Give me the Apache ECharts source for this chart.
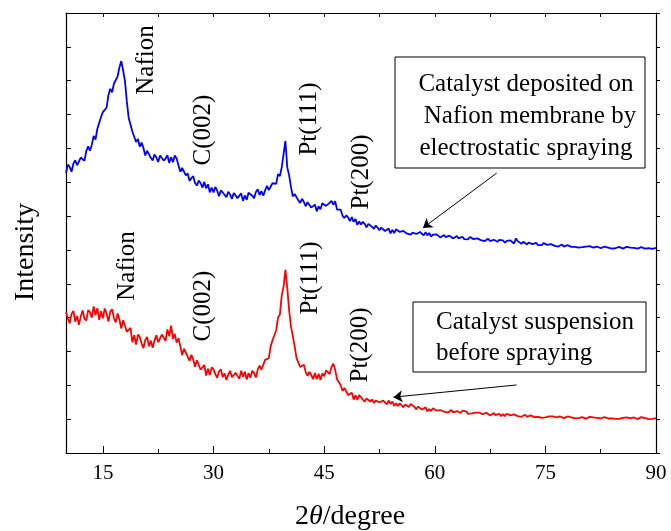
<!DOCTYPE html>
<html>
<head>
<meta charset="utf-8">
<title>XRD</title>
<script src="https://cdn.jsdelivr.net/npm/echarts@6/dist/echarts.min.js"></script>
<style>
html, body { margin: 0; padding: 0; background: #fff; }
#main { width: 671px; height: 531px; }
</style>
</head>
<body>
<div id="main"></div>
<script>
// 2theta grid of the scans (degree)
var thetaStart = 10;
var thetaStep = 0.25;

// catalyst deposited on Nafion membrane by electrostatic spraying (blue)
var sprayed = [
	828,852,845,831,855,865,850,847,873,870,863,892,906,893,911,937,926,958,953,993,
	1007,1012,1020,1057,1076,1066,1091,1086,1113,1140,1158,1130,1098,1038,990,989,950,953,919,928,
	905,917,901,879,893,893,872,864,882,873,860,879,884,864,870,880,857,874,859,879,
	870,850,831,842,843,820,826,804,812,818,798,790,805,797,784,801,782,794,770,784,
	770,786,775,759,776,781,763,756,772,764,751,768,772,753,757,767,745,761,748,769,
	769,760,753,771,779,762,774,760,776,789,777,776,797,798,795,824,818,844,847,922,
	844,821,787,758,765,764,747,739,751,742,729,741,742,725,727,734,714,729,720,738,
	738,730,725,739,745,733,744,719,719,719,701,694,702,696,685,697,683,691,674,684,
	675,683,677,667,677,678,668,662,672,666,658,666,668,656,657,663,649,659,650,661,
	659,653,648,656,658,648,653,645,651,655,647,644,653,649,643,652,643,650,639,645,
	641,646,642,637,642,644,638,636,642,638,634,639,641,634,636,639,632,637,631,638,
	636,632,628,634,636,629,631,626,629,633,626,625,630,628,624,630,625,628,621,627,
	623,628,625,619,634,626,621,618,624,621,616,622,624,617,619,621,614,619,614,620,
	618,615,612,617,618,612,615,610,613,616,610,610,614,612,609,614,609,612,607,612,
	608,612,610,606,611,612,607,606,610,608,605,609,610,605,607,609,604,608,605,610,
	609,606,604,608,609,604,607,603,606,609,604,604,608,607,604,609,605,608,603,608,
	606
];

// catalyst suspension before spraying (red)
var suspension = [
	416,398,383,411,420,388,405,379,403,421,397,391,422,416,400,433,407,428,393,419,
	398,427,413,388,417,425,398,386,412,394,368,392,394,358,359,370,327,348,320,350,
	343,324,310,334,343,315,332,311,332,348,327,322,350,345,331,365,345,376,337,352,
	326,339,315,289,308,311,285,272,290,276,255,274,275,246,248,260,229,249,230,253,
	247,233,222,241,247,224,235,216,231,243,224,219,237,232,219,243,225,240,217,236,
	222,243,236,223,247,258,246,246,275,279,280,315,333,333,362,400,409,465,491,541,
	488,423,374,346,316,281,280,254,259,261,239,228,240,231,218,236,218,234,216,235,
	227,244,240,233,254,264,245,218,214,200,183,192,190,171,172,178,158,170,157,171,
	166,158,152,161,163,152,158,148,155,159,149,145,155,151,144,155,145,152,139,147,
	139,147,143,135,143,145,136,145,140,136,129,137,138,128,130,135,123,130,124,132,
	130,125,122,127,129,122,125,119,123,127,120,119,124,122,118,125,120,123,116,121,
	117,122,119,114,119,121,115,113,119,115,111,116,118,112,113,116,109,115,109,116,
	114,111,109,114,114,109,112,107,110,113,107,107,111,110,106,111,107,110,104,109,
	105,110,108,103,108,109,105,104,108,106,103,108,108,103,105,107,102,106,103,108,
	106,103,101,106,107,102,105,101,104,107,102,102,106,105,102,106,102,105,101,105,
	101,106,104,100,105,106,102,101,105,103,100,105,106,101,103,105,100,104,101,106,
	103
];

var xMajorTicks = [15, 30, 45, 60, 75, 90];
var xMinorTicks = [22.5, 37.5, 52.5, 67.5, 82.5];
var xAllTicks = [15, 22.5, 30, 37.5, 45, 52.5, 60, 67.5, 75, 82.5, 90];

// arrows: [from, to] in (2theta, intensity)
var sprayedArrow = [[68.4, 827], [58.4, 665]];
var suspensionArrow = [[71.1, 201], [54.4, 165]];

var serif = "'Liberation Serif', 'Times New Roman', serif";

function toPairs(values) {
	var out = [];
	for (var i = 0; i < values.length; i++) {
		out.push([thetaStart + i * thetaStep, values[i]]);
	}
	return out;
}

function arrowLine(pts) {
	return {
		silent: true,
		symbol: ['none', 'arrow'],
		symbolSize: 9,
		label: { show: false },
		lineStyle: { color: '#000', width: 1, type: 'solid' },
		emphasis: { disabled: true },
		data: [[{ coord: pts[0] }, { coord: pts[1] }]]
	};
}

// rotated peak labels
function peakLabel(text, x, y) {
	return {
		type: 'text',
		x: x,
		y: y,
		rotation: Math.PI / 2,
		style: {
			text: text,
			fontFamily: serif,
			fontSize: 25,
			fill: '#000',
			align: 'center',
			verticalAlign: 'middle'
		}
	};
}

function boxText(text, x, y, align) {
	return {
		type: 'text',
		x: x,
		y: y,
		style: {
			text: text,
			fontFamily: serif,
			fontSize: 25,
			fill: '#000',
			align: align,
			verticalAlign: 'middle'
		}
	};
}

var myChart = echarts.init(document.getElementById('main'));

var option = {
	animation: false,
	backgroundColor: '#fff',
	grid: { left: 66, right: 15, top: 13, bottom: 78, outerBoundsMode: 'none' },
	xAxis: [{
		type: 'value',
		min: 10,
		max: 90,
		position: 'bottom',
		axisLine: { onZero: false, lineStyle: { color: '#000', width: 1.2 } },
		axisTick: { inside: true, length: 7, customValues: xMajorTicks, lineStyle: { color: '#000' } },
		axisLabel: { customValues: xMajorTicks, fontFamily: serif, fontSize: 21, color: '#000', margin: 10 },
		splitLine: { show: false },
		name: '2{i|θ}/degree',
		nameLocation: 'middle',
		nameGap: 50,
		nameTextStyle: {
			fontFamily: serif, fontSize: 28, color: '#000',
			padding: [0, 22, 0, 0],
			rich: { i: { fontFamily: serif, fontSize: 28, fontStyle: 'italic', color: '#000' } }
		}
	}, {
		type: 'value',
		min: 10,
		max: 90,
		position: 'bottom',
		axisLine: { show: false },
		axisTick: { inside: true, length: 4, customValues: xMinorTicks, lineStyle: { color: '#000' } },
		axisLabel: { show: false },
		splitLine: { show: false }
	}, {
		type: 'value',
		min: 10,
		max: 90,
		position: 'top',
		axisLine: { onZero: false, lineStyle: { color: '#000', width: 1.2 } },
		axisTick: { inside: true, length: 4, customValues: xAllTicks, lineStyle: { color: '#000' } },
		axisLabel: { show: false },
		splitLine: { show: false }
	}],
	yAxis: [{
		type: 'value',
		min: 0,
		max: 1300,
		interval: 100,
		position: 'left',
		axisLine: { show: true, onZero: false, lineStyle: { color: '#000', width: 1.2 } },
		axisTick: { show: true, inside: true, length: 5, lineStyle: { color: '#000' } },
		axisLabel: { show: false },
		splitLine: { show: false },
		name: 'Intensity',
		nameLocation: 'middle',
		nameGap: 26,
		nameTextStyle: { fontFamily: serif, fontSize: 28, color: '#000', padding: [0, 38, 0, 0] }
	}, {
		type: 'value',
		min: 0,
		max: 1300,
		interval: 100,
		position: 'right',
		axisLine: { show: true, onZero: false, lineStyle: { color: '#000', width: 1.2 } },
		axisTick: { show: true, inside: false, length: 4, lineStyle: { color: '#000' } },
		axisLabel: { show: false },
		splitLine: { show: false }
	}],
	series: [{
		name: 'sprayed',
		type: 'line',
		data: toPairs(sprayed),
		showSymbol: false,
		sampling: 'none',
		lineStyle: { color: '#0000ff', width: 1.8 },
		itemStyle: { color: '#0000ff' },
		markLine: arrowLine(sprayedArrow)
	}, {
		name: 'suspension',
		type: 'line',
		data: toPairs(suspension),
		showSymbol: false,
		sampling: 'none',
		lineStyle: { color: '#ff0000', width: 1.8 },
		itemStyle: { color: '#ff0000' },
		markLine: arrowLine(suspensionArrow)
	}],
	graphic: [
		peakLabel('Nafion', 146, 60),
		peakLabel('C(002)', 203, 130),
		peakLabel('Pt(111)', 309, 119),
		peakLabel('Pt(200)', 361, 172),
		peakLabel('Nafion', 127, 266),
		peakLabel('C(002)', 203, 306),
		peakLabel('Pt(111)', 310, 278),
		peakLabel('Pt(200)', 360, 345),
		{
			type: 'rect',
			shape: { x: 395, y: 57, width: 250, height: 111 },
			style: { fill: '#fff', stroke: '#000', lineWidth: 1 }
		},
		boxText('Catalyst deposited on', 526, 84, 'center'),
		boxText('Nafion membrane by', 530, 116, 'center'),
		boxText('electrostatic spraying', 526, 148, 'center'),
		{
			type: 'rect',
			shape: { x: 413, y: 302, width: 233, height: 70 },
			style: { fill: '#fff', stroke: '#000', lineWidth: 1 }
		},
		boxText('Catalyst suspension', 436, 322, 'left'),
		boxText('before spraying', 436, 353, 'left')
	]
};

myChart.setOption(option);
</script>
</body>
</html>
